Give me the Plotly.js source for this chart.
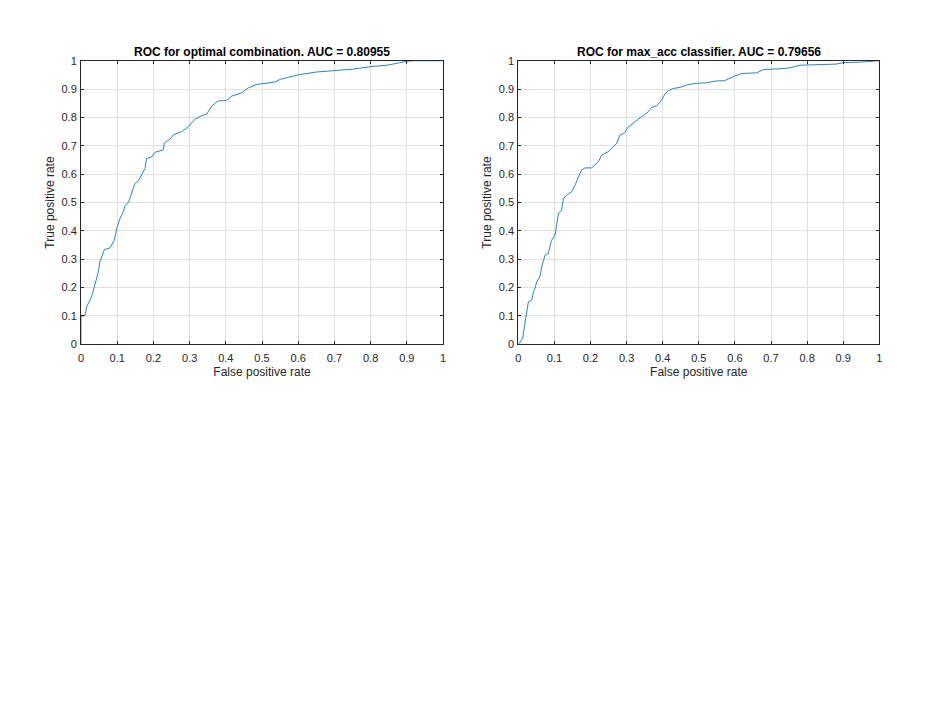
<!DOCTYPE html>
<html>
<head>
<meta charset="utf-8">
<script src="https://cdn.plot.ly/plotly-3.0.1.min.js"></script>
<style>html,body{margin:0;padding:0;background:#fff;}#chart{width:931px;height:719px;}</style>
</head>
<body>
<div id="chart"></div>
<script>
// ROC for optimal combination
const fpr1 = [0, 0, 0.011, 0.016, 0.030, 0.048, 0.052, 0.064, 0.080, 0.092, 0.099, 0.108, 0.117, 0.122, 0.131, 0.140, 0.149, 0.158, 0.168, 0.177, 0.181, 0.195, 0.204, 0.227, 0.230, 0.246, 0.255, 0.278, 0.296, 0.315, 0.333, 0.347, 0.361, 0.379, 0.402, 0.416, 0.444, 0.462, 0.485, 0.508, 0.536, 0.55, 0.60, 0.65, 0.70, 0.75, 0.80, 0.85, 0.88, 0.90, 0.92, 1.0];
const tpr1 = [0, 0.100, 0.100, 0.133, 0.170, 0.256, 0.290, 0.333, 0.340, 0.367, 0.410, 0.445, 0.467, 0.490, 0.500, 0.537, 0.567, 0.575, 0.597, 0.620, 0.655, 0.660, 0.677, 0.685, 0.710, 0.724, 0.738, 0.750, 0.767, 0.794, 0.806, 0.811, 0.840, 0.858, 0.860, 0.875, 0.887, 0.904, 0.916, 0.920, 0.925, 0.934, 0.950, 0.960, 0.964, 0.970, 0.979, 0.985, 0.993, 0.998, 1.0, 1.0];

// ROC for max_acc classifier
const fpr2 = [0, 0.005, 0.012, 0.016, 0.021, 0.025, 0.028, 0.037, 0.042, 0.046, 0.051, 0.060, 0.065, 0.074, 0.083, 0.092, 0.102, 0.106, 0.111, 0.120, 0.125, 0.134, 0.148, 0.157, 0.166, 0.175, 0.185, 0.203, 0.222, 0.231, 0.249, 0.263, 0.272, 0.282, 0.295, 0.305, 0.323, 0.342, 0.360, 0.369, 0.383, 0.397, 0.406, 0.416, 0.429, 0.448, 0.466, 0.489, 0.522, 0.55, 0.57, 0.60, 0.62, 0.66, 0.68, 0.72, 0.75, 0.78, 0.85, 0.88, 0.90, 0.95, 1.0];
const tpr2 = [0, 0.010, 0.020, 0.055, 0.090, 0.120, 0.150, 0.155, 0.185, 0.196, 0.220, 0.238, 0.273, 0.314, 0.320, 0.367, 0.385, 0.420, 0.460, 0.473, 0.514, 0.526, 0.538, 0.561, 0.590, 0.614, 0.622, 0.622, 0.644, 0.667, 0.679, 0.696, 0.708, 0.738, 0.746, 0.767, 0.785, 0.802, 0.820, 0.835, 0.841, 0.861, 0.882, 0.894, 0.902, 0.906, 0.914, 0.920, 0.922, 0.929, 0.929, 0.946, 0.955, 0.957, 0.969, 0.971, 0.974, 0.984, 0.986, 0.988, 0.993, 0.995, 1.0];

const tickVals = [0, 0.1, 0.2, 0.3, 0.4, 0.5, 0.6, 0.7, 0.8, 0.9, 1];
const tickText = ['0', '0.1', '0.2', '0.3', '0.4', '0.5', '0.6', '0.7', '0.8', '0.9', '1'];
const titles = ['ROC for optimal combination. AUC = 0.80955', 'ROC for max_acc classifier. AUC = 0.79656'];
const xLabel = 'False positive rate';
const yLabel = 'True positive rate';

const FONT = 'Liberation Sans, Arial, sans-serif';
const lineColor = '#2a84c6';

const traces = [
  {x: fpr1, y: tpr1, type: 'scatter', mode: 'lines', line: {color: lineColor, width: 1}, xaxis: 'x', yaxis: 'y', hoverinfo: 'skip'},
  {x: fpr2, y: tpr2, type: 'scatter', mode: 'lines', line: {color: lineColor, width: 1}, xaxis: 'x2', yaxis: 'y2', hoverinfo: 'skip'}
];

function axis(domain, anchor, isX) {
  return {
    domain: domain,
    anchor: anchor,
    range: [0, 1],
    tickmode: 'array',
    tickvals: tickVals,
    ticktext: tickText,
    ticks: 'inside',
    ticklen: 3,
    tickcolor: '#262626',
    tickwidth: 1,
    showline: true,
    linecolor: '#262626',
    linewidth: 1,
    mirror: 'ticks',
    showgrid: true,
    gridcolor: '#e0e0e0',
    gridwidth: 1,
    zeroline: false,
    ticklabelstandoff: isX ? 3 : 1,
    tickfont: {family: FONT, size: 11, color: '#262626'},
    title: {text: isX ? xLabel : yLabel, font: {family: FONT, size: 12, color: '#262626'}, standoff: isX ? 5 : 4},
    fixedrange: true
  };
}

const yDom = [1 - 344.3 / 719, 1 - 60.7 / 719];
const x1Dom = [81 / 931, 443 / 931];
const x2Dom = [518.3 / 931, 879.3 / 931];

const layout = {
  width: 931,
  height: 719,
  margin: {l: 0, r: 0, t: 0, b: 0},
  paper_bgcolor: '#ffffff',
  plot_bgcolor: '#ffffff',
  showlegend: false,
  xaxis: axis(x1Dom, 'y', true),
  yaxis: axis(yDom, 'x', false),
  xaxis2: axis(x2Dom, 'y2', true),
  yaxis2: axis(yDom, 'x2', false),
  annotations: [
    {text: '<b>' + titles[0] + '</b>', xref: 'paper', yref: 'paper', x: (x1Dom[0] + x1Dom[1]) / 2, y: 1 - 52 / 719, xanchor: 'center', yanchor: 'middle', showarrow: false, font: {family: FONT, size: 12, color: '#000000'}},
    {text: '<b>' + titles[1] + '</b>', xref: 'paper', yref: 'paper', x: (x2Dom[0] + x2Dom[1]) / 2, y: 1 - 52 / 719, xanchor: 'center', yanchor: 'middle', showarrow: false, font: {family: FONT, size: 12, color: '#000000'}}
  ]
};

Plotly.newPlot('chart', traces, layout, {displayModeBar: false, staticPlot: true});
</script>
</body>
</html>
